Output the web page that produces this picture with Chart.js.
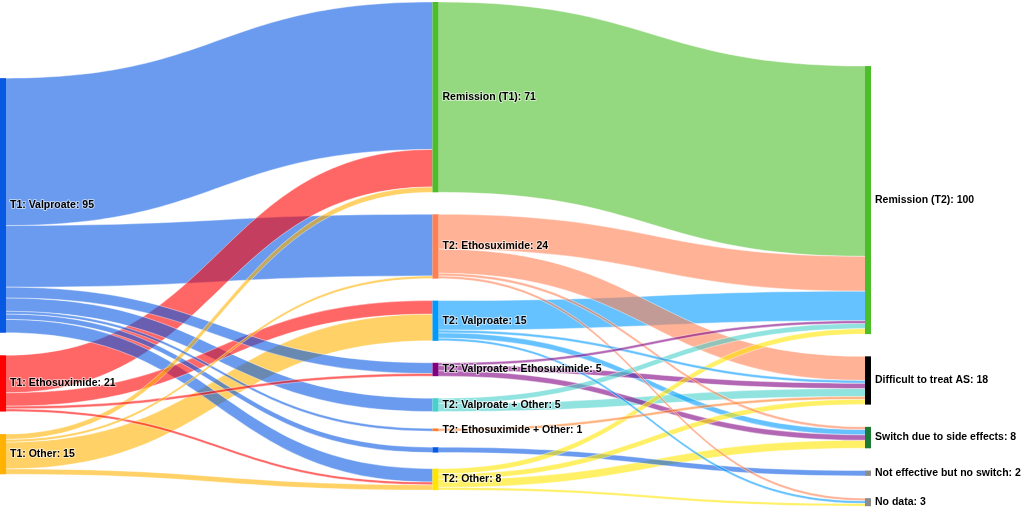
<!DOCTYPE html>
<html>
<head>
<meta charset="utf-8">
<script src="https://cdn.jsdelivr.net/npm/chart.js@4.4.1/dist/chart.umd.min.js"></script>
<style>
  html, body { margin: 0; padding: 0; background: #fff; }
  #wrap { width: 1021px; height: 507px; }
</style>
</head>
<body>
<div id="wrap"><canvas id="sankeyChart"></canvas></div>
<script>
// nodes (column 0 = T1, 1 = T2, 2 = outcome)
const nodeLabels = [
  'T1: Valproate', 'T1: Ethosuximide', 'T1: Other',
  'Remission (T1)', 'T2: Ethosuximide', 'T2: Valproate', 'T2: Valproate + Ethosuximide',
  'T2: Valproate + Other', 'T2: Ethosuximide + Other', '', 'T2: Other',
  'Remission (T2)', 'Difficult to treat AS', 'Switch due to side effects',
  'Not effective but no switch', 'No data'
];
const nodeColumn = [0, 0, 0, 1, 1, 1, 1, 1, 1, 1, 1, 2, 2, 2, 2, 2];

// links
const linkSource = [0, 0, 0, 0, 0, 0, 0, 1, 1, 1, 1, 2, 2, 2, 2,
                    3, 4, 4, 4, 4, 5, 5, 5, 5, 6, 6, 6, 7, 7, 8, 9, 10, 10, 10, 10];
const linkTarget = [3, 4, 6, 7, 8, 9, 10, 3, 5, 6, 10, 3, 4, 5, 10,
                    11, 11, 12, 13, 15, 11, 12, 13, 15, 11, 12, 13, 11, 12, 12, 14, 11, 12, 13, 15];
const linkValue  = [55, 23, 4, 5, 1, 2, 5, 14, 5, 1, 1, 2, 1, 10, 2,
                    71, 13, 9, 1, 1, 11, 1, 2, 1, 1, 2, 2, 2, 3, 1, 2, 2, 2, 3, 1];

// styles
const nodeColors = ['#0758e3', '#ff0000', '#ffb300', '#4cbe2a', '#ff7f50', '#0099ff', '#800080',
  '#48d1cc', '#ff7f27', '#0758e3', '#ffe600', '#4cbe2a', '#000000', '#1b7a34', '#8c8c8c', '#8c8c8c'];

function hexToRgba(hex, a) {
  const v = parseInt(hex.slice(1), 16);
  return 'rgba(' + (v >> 16) + ',' + ((v >> 8) & 255) + ',' + (v & 255) + ',' + a + ')';
}

const sankeyPlugin = {
  id: 'sankey',
  afterDatasetsDraw(chart, args, opts) {
    const ctx = chart.ctx;
    const xs = chart.scales.x, ys = chart.scales.y;
    const n = nodeLabels.length;

    const inSum = new Array(n).fill(0), outSum = new Array(n).fill(0);
    linkValue.forEach((v, i) => { outSum[linkSource[i]] += v; inSum[linkTarget[i]] += v; });
    const total = nodeLabels.map((_, i) => Math.max(inSum[i], outSum[i]));

    // stack the nodes of each column (value units)
    const top = new Array(n);
    opts.columns.forEach((col, c) => {
      const ids = [];
      nodeColumn.forEach((cc, i) => { if (cc === c) ids.push(i); });
      let pos = col.top;
      ids.forEach(i => { top[i] = pos; pos += total[i] + col.pad; });
      if (col.bottom !== undefined) {
        let limit = col.bottom;
        for (let k = ids.length - 1; k >= 0; k--) {
          const i = ids[k];
          if (top[i] + total[i] > limit) top[i] = limit - total[i];
          limit = top[i] - col.minPad;
        }
      }
    });

    // offsets of each link inside its source and target node
    const sy = new Array(linkValue.length), ty = new Array(linkValue.length);
    for (let i = 0; i < n; i++) {
      const outs = linkValue.map((_, k) => k).filter(k => linkSource[k] === i)
        .sort((a, b) => top[linkTarget[a]] - top[linkTarget[b]]);
      let o = top[i];
      outs.forEach(k => { sy[k] = o; o += linkValue[k]; });
      const ins = linkValue.map((_, k) => k).filter(k => linkTarget[k] === i)
        .sort((a, b) => top[linkSource[a]] - top[linkSource[b]]);
      o = top[i];
      ins.forEach(k => { ty[k] = o; o += linkValue[k]; });
    }

    const nw = opts.nodeWidth;
    const nodeLeft = c => xs.getPixelForValue(c) - nw * c / 2;
    const py = v => ys.getPixelForValue(v);

    // links, biggest first
    const order = linkValue.map((_, k) => k).sort((a, b) => linkValue[b] - linkValue[a]);
    order.forEach(k => {
      const s = linkSource[k], t = linkTarget[k];
      const x0 = nodeLeft(nodeColumn[s]) + nw, x1 = nodeLeft(nodeColumn[t]);
      const xm = (x0 + x1) / 2;
      const a0 = py(sy[k]), a1 = py(sy[k] + linkValue[k]);
      const b0 = py(ty[k]), b1 = py(ty[k] + linkValue[k]);
      ctx.beginPath();
      ctx.moveTo(x0, a0);
      ctx.bezierCurveTo(xm, a0, xm, b0, x1, b0);
      ctx.lineTo(x1, b1);
      ctx.bezierCurveTo(xm, b1, xm, a1, x0, a1);
      ctx.closePath();
      ctx.fillStyle = hexToRgba(nodeColors[s], opts.linkAlpha);
      ctx.fill();
      ctx.strokeStyle = 'rgba(255,255,255,0.6)';
      ctx.lineWidth = 0.7;
      ctx.beginPath();
      ctx.moveTo(x0, a0);
      ctx.bezierCurveTo(xm, a0, xm, b0, x1, b0);
      ctx.moveTo(x0, a1);
      ctx.bezierCurveTo(xm, a1, xm, b1, x1, b1);
      ctx.stroke();
    });

    // nodes
    for (let i = 0; i < n; i++) {
      const x = nodeLeft(nodeColumn[i]);
      ctx.fillStyle = nodeColors[i];
      ctx.fillRect(x, py(top[i]), nw, py(top[i] + total[i]) - py(top[i]));
    }

    // labels
    ctx.font = opts.font;
    ctx.textBaseline = 'middle';
    ctx.textAlign = 'left';
    ctx.lineJoin = 'round';
    for (let i = 0; i < n; i++) {
      if (!nodeLabels[i]) continue;
      const text = nodeLabels[i] + ': ' + total[i];
      const x = nodeLeft(nodeColumn[i]) + nw + 4;
      const y = py(top[i] + total[i] / 2);
      ctx.strokeStyle = 'rgba(255,255,255,0.55)';
      ctx.lineWidth = 2;
      ctx.strokeText(text, x, y);
      ctx.fillStyle = '#000';
      ctx.fillText(text, x, y);
    }
  }
};

const ctx = document.getElementById('sankeyChart');

new Chart(ctx, {
  type: 'scatter',
  data: { datasets: [] },
  options: {
    responsive: true,
    maintainAspectRatio: false,
    animation: false,
    layout: { padding: { top: 2, bottom: 0, left: 0, right: 150 } },
    scales: {
      x: { type: 'linear', min: 0, max: 2, display: false },
      y: { type: 'linear', min: 0, max: 188.4, reverse: true, display: false }
    },
    plugins: {
      legend: { display: false },
      tooltip: { enabled: false },
      sankey: {
        nodeWidth: 6,
        linkAlpha: 0.6,
        font: "bold 10.5px 'Liberation Sans', Arial, sans-serif",
        columns: [
          { top: 28.4, pad: 8.4 },
          { top: 0, pad: 8.2, bottom: 182.1, minPad: 6 },
          { top: 23.9, pad: 8.3 }
        ]
      }
    }
  },
  plugins: [sankeyPlugin]
});
</script>
</body>
</html>
